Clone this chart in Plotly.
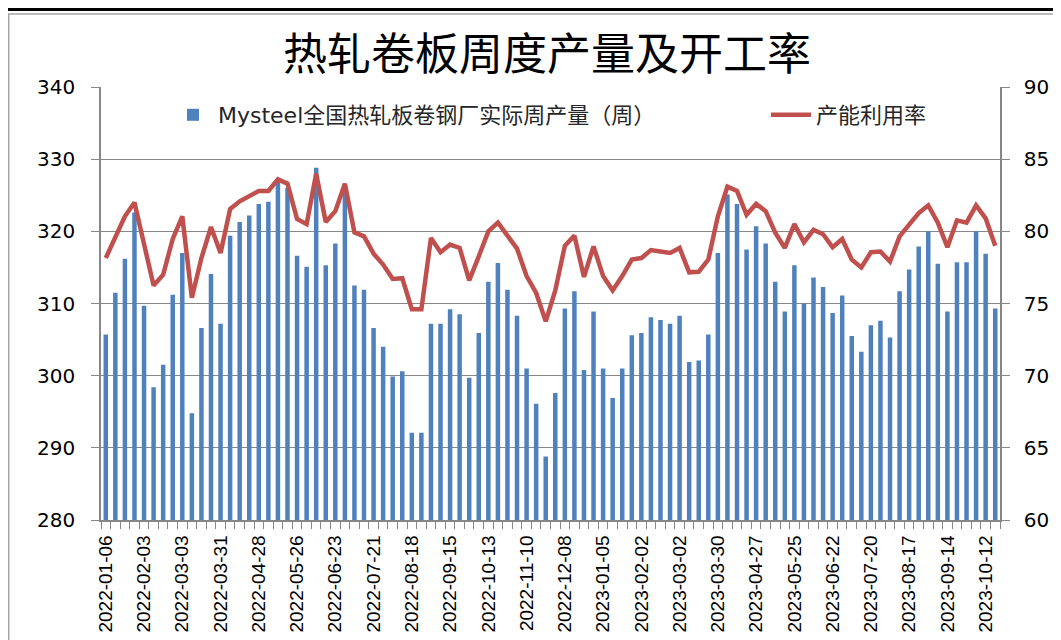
import pandas as pd
import plotly.graph_objects as go

# Weekly dates (every Thursday)
dates = pd.date_range("2022-01-06", periods=94, freq="7D")
tick_dates = dates[::4]

# Mysteel national HRC weekly output (10k t), left axis
output = [
    305.7, 311.5, 316.2, 322.6, 309.7, 298.4, 301.5, 311.2, 317.0, 294.8,
    306.6, 314.1, 307.2, 319.4, 321.3, 322.2, 323.8, 324.1, 326.7, 326.0,
    316.6, 315.1, 328.8, 315.3, 318.3, 325.5, 312.5, 311.9, 306.6, 304.0,
    299.9, 300.6, 292.1, 292.1, 307.2, 307.2, 309.2, 308.5, 299.7, 305.9,
    313.0, 315.6, 311.9, 308.3, 301.0, 296.1, 288.8, 297.6, 309.3, 311.7,
    300.8, 308.9, 301.0, 296.9, 301.0, 305.6, 305.9, 308.1, 307.7, 307.2,
    308.3, 301.9, 302.1, 305.7, 317.0, 325.1, 323.8, 317.5, 320.7, 318.3,
    313.0, 308.9, 315.3, 310.0, 313.6, 312.3, 308.7, 311.1, 305.5, 303.3,
    307.0, 307.6, 305.3, 311.7, 314.7, 317.9, 320.0, 315.5, 308.9, 315.7,
    315.7, 320.0, 316.9, 309.3,
]

# Capacity utilisation (%), right axis
utilisation = [
    78.15, 79.65, 81.04, 82.0, 79.2, 76.24, 77.0, 79.47, 81.04, 75.4,
    78.15, 80.3, 78.5, 81.55, 82.08, 82.4, 82.8, 82.8, 83.6, 83.3,
    80.85, 80.5, 84.0, 80.65, 81.4, 83.3, 79.93, 79.65, 78.45, 77.7,
    76.7, 76.75, 74.6, 74.6, 79.54, 78.55, 79.08, 78.85, 76.6, 78.27,
    80.0, 80.6, 79.65, 78.8, 76.9, 75.73, 73.76, 75.9, 79.0, 79.7,
    76.84, 78.96, 76.9, 75.9, 76.9, 78.04, 78.15, 78.7, 78.6, 78.5,
    78.85, 77.16, 77.2, 78.04, 81.04, 83.1, 82.8, 81.15, 81.9, 81.4,
    79.9, 78.85, 80.5, 79.24, 80.1, 79.8, 78.9, 79.47, 78.04, 77.5,
    78.55, 78.6, 77.9, 79.65, 80.46, 81.27, 81.8, 80.6, 78.9, 80.76,
    80.6, 81.8, 80.9, 79.0,
]

left_ticks = [280, 290, 300, 310, 320, 330, 340]
right_ticks = [60, 65, 70, 75, 80, 85, 90]

title_text = "热轧卷板周度产量及开工率"
bar_name = "Mysteel全国热轧板卷钢厂实际周产量（周）"
line_name = "产能利用率"

BLUE = "#4F81BD"
RED = "#C0504D"
GRID = "#878787"

# The page body has an 8px margin, so the figure is sized to fill the rest.
W, H = 1053, 632
L, R, T, B = 93, 61, 79, 120
PW, PH = W - L - R, H - T - B


def px(fx):
    return (fx - L) / PW


def py(fy):
    return (H - B - fy) / PH


fig = go.Figure()
fig.add_trace(go.Bar(
    x=dates, y=output, name=bar_name, marker=dict(color=BLUE, line=dict(width=0)),
    yaxis="y", legend="legend", showlegend=True,
))
fig.add_trace(go.Scatter(
    x=dates, y=utilisation, name=line_name, mode="lines",
    line=dict(color=RED, width=4.5), yaxis="y2", legend="legend2", showlegend=True,
))

half_week = pd.Timedelta(days=3.5)
x_start = dates[0] - half_week
x_end = dates[-1] + half_week

legend_font = dict(family="DejaVu Sans, Noto Sans CJK SC", size=22, color="#262626")

fig.update_layout(
    width=W, height=H,
    margin=dict(l=L, r=R, t=T, b=B, autoexpand=False),
    paper_bgcolor="white", plot_bgcolor="white",
    showlegend=True,
    bargap=0.53,
    title=dict(text=title_text, x=px(539), xref="paper", xanchor="center",
               y=1 - 47 / H, yref="container", yanchor="middle",
               font=dict(family="Noto Sans CJK SC", size=44, color="black")),
    font=dict(family="DejaVu Sans, Noto Sans CJK SC", color="black"),
    legend=dict(orientation="h", x=px(160), y=py(107), xanchor="left", yanchor="middle",
                bgcolor="rgba(0,0,0,0)", itemwidth=40, font=legend_font),
    legend2=dict(orientation="h", x=px(758), y=py(107), xanchor="left", yanchor="middle",
                 bgcolor="rgba(0,0,0,0)", itemwidth=40, font=legend_font),
    xaxis=dict(
        type="date", range=[x_start, x_end], automargin=False,
        tickvals=list(tick_dates), tickformat="%Y-%m-%d", tickangle=-90,
        ticks="", showgrid=False, showline=True, linecolor=GRID, linewidth=1.5,
        ticklabelstandoff=6,
        tickfont=dict(family="Liberation Sans Narrow, Arial Narrow, Liberation Sans", size=19, color="black"),
        minor=dict(ticks="outside", ticklen=7, tickcolor=GRID, tickwidth=1,
                   tick0=x_start, dtick=7 * 86400000, showgrid=False),
    ),
    yaxis=dict(
        range=[280, 340], tickvals=left_ticks, showgrid=True, gridcolor=GRID, gridwidth=1,
        showline=True, linecolor=GRID, linewidth=1.5, ticks="outside", ticklen=8,
        tickcolor=GRID, ticklabelstandoff=12, zeroline=False, automargin=False,
        tickfont=dict(family="DejaVu Sans", size=20, color="black"),
    ),
    yaxis2=dict(
        range=[60, 90], tickvals=right_ticks, overlaying="y", side="right",
        showgrid=False, showline=True, linecolor=GRID, linewidth=1.5,
        ticks="outside", ticklen=8, tickcolor=GRID, ticklabelstandoff=10, zeroline=False,
        automargin=False,
        tickfont=dict(family="DejaVu Sans", size=20, color="black"),
    ),
    shapes=[
        dict(type="line", xref="paper", yref="paper", x0=px(-10), x1=px(W + 10),
             y0=py(1.5), y1=py(1.5), line=dict(color="black", width=3)),
        dict(type="rect", xref="paper", yref="paper", x0=px(0.75), x1=px(W + 20),
             y0=py(H + 20), y1=py(6), line=dict(color="#A6A6A6", width=1.5),
             layer="below"),
    ],
)

fig.write_html("out.html")
